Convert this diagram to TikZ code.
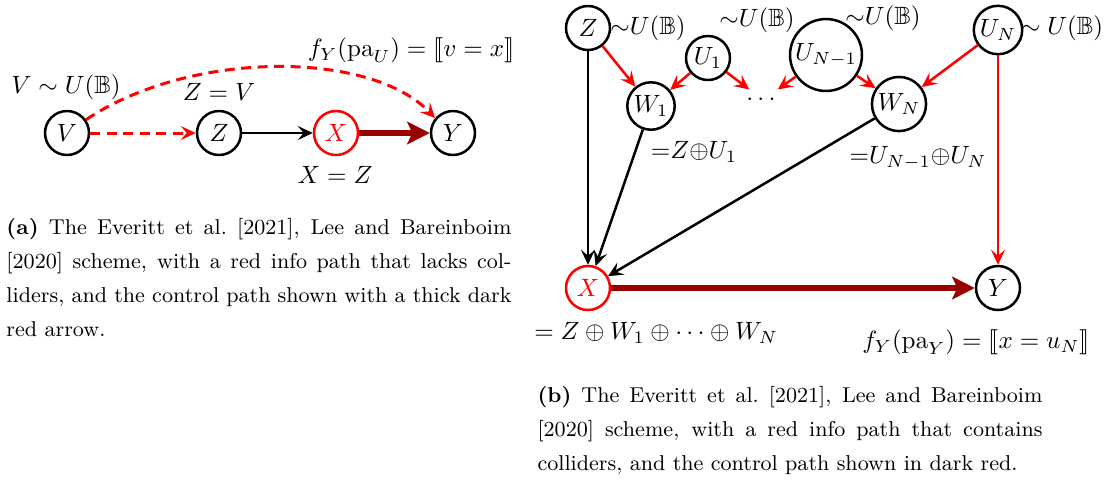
\documentclass[tikz,border=0pt]{standalone}
\usepackage{amsmath,amssymb,stmaryrd}
\usetikzlibrary{arrows.meta}
\definecolor{dkred}{rgb}{0.6,0,0}
\newcommand{\capfont}{\fontsize{8.6}{10}\selectfont}
\tikzset{
  var/.style={draw, circle, line width=1pt, minimum size=17.6pt, inner sep=1pt},
  rvar/.style={var, draw=red, text=red},
  tip/.style={-{Stealth[length=6pt,width=5.6pt,inset=2.4pt]}},
  edge/.style={tip, line width=1pt},
  redge/.style={edge, red},
  dedge/.style={tip, red, line width=1.2pt, dash pattern=on 4pt off 2.6pt},
  ctrl/.style={-{Stealth[length=9pt,width=9pt,inset=2pt]}, line width=2.6pt, dkred},
  lbl/.style={inner sep=0pt},
  capline/.style={anchor=base west, inner sep=0pt},
}
\begin{document}
\begin{tikzpicture}[x=0.4pt, y=-0.4pt]
\useasboundingbox (0,0) rectangle (1120,489);
% ---------- panel (a) ----------
\node[var]  (aV) at (67,133)  {$V$};
\node[var]  (aZ) at (219,133) {$Z$};
\node[rvar] (aX) at (336,133) {$X$};
\node[var]  (aY) at (453,133) {$Y$};
\node[lbl] (laV) at (66,87)  {$V\sim U(\mathbb{B})$};
\node[lbl] (laZ) at (219,92) {$Z=V$};
\node[lbl] (laX) at (335,175) {$X=Z$};
\node[lbl] (laY) at (411,50) {$f_Y(\mathrm{pa}_U)=\llbracket v=x\rrbracket$};
\draw[dedge] (aV) -- (aZ);
\draw[dedge] (aV.35) .. controls (190,50) and (370,50) .. (aY.140);
\draw[edge] (aZ) -- (aX);
\draw[ctrl] (aX) -- (aY);
\node[capline] (ca1) at (6,234) {\capfont\makebox[202pt][s]{\textbf{(a)} The Everitt et al.\ [2021], Lee and Bareinboim}};
\node[capline] (ca2) at (6,268) {\capfont\makebox[202pt][s]{[2020] scheme, with a red info path that lacks col-}};
\node[capline] (ca3) at (6,302) {\capfont\makebox[202pt][s]{liders, and the control path shown with a thick dark}};
\node[capline] (ca4) at (6,336) {\capfont red arrow.};
% ---------- panel (b) ----------
\node[var] (Z)  at (588,28)  {$Z$};
\node[var] (U1) at (708,58)  {$U_1$};
\node[var] (UM) at (826,55)  {$U_{N-1}$};
\node[var] (UN) at (998,30)  {$U_N$};
\node[var] (W1) at (651,106) {$W_1$};
\node[lbl, minimum width=16pt, minimum height=8pt] (D) at (763,100) {$\cdots$};
\node[var] (WN) at (899,104) {$W_N$};
\node[rvar] (X) at (588,288) {$X$};
\node[var]  (Y) at (998,288) {$Y$};
\node[lbl] (lZ)  at (648,28)  {${\sim}U(\mathbb{B})$};
\node[lbl] (lU1) at (757,20)  {${\sim}U(\mathbb{B})$};
\node[lbl] (lUM) at (883,18)  {${\sim}U(\mathbb{B})$};
\node[lbl] (lUN) at (1062,28) {$\sim U(\mathbb{B})$};
\node[lbl] (lW1) at (694,152) {${=}Z{\oplus}U_1$};
\node[lbl] (lWN) at (918,158) {${=}U_{N-1}{\oplus}U_N$};
\node[lbl] (lX)  at (656,333) {$=Z\oplus W_1\oplus\cdots\oplus W_N$};
\node[lbl] (lY)  at (976,342) {$f_Y(\mathrm{pa}_Y)=\llbracket x=u_N\rrbracket$};
\draw[redge] (Z) -- (W1);
\draw[redge] (U1) -- (W1);
\draw[redge] (U1) -- (D);
\draw[redge] (UM) -- (D);
\draw[redge] (UM) -- (WN);
\draw[redge] (UN) -- (WN);
\draw[redge] (UN) -- (Y);
\draw[edge] (Z) -- (X);
\draw[edge] (W1) -- (X);
\draw[edge] (WN) -- (X);
\draw[ctrl] (X) -- (Y);
\node[capline] (cb1) at (537,402) {\capfont\makebox[202pt][s]{\textbf{(b)} The Everitt et al.\ [2021], Lee and Bareinboim}};
\node[capline] (cb2) at (537,436) {\capfont\makebox[202pt][s]{[2020] scheme, with a red info path that contains}};
\node[capline] (cb3) at (537,470) {\capfont colliders, and the control path shown in dark red.};
\end{tikzpicture}
\end{document}
